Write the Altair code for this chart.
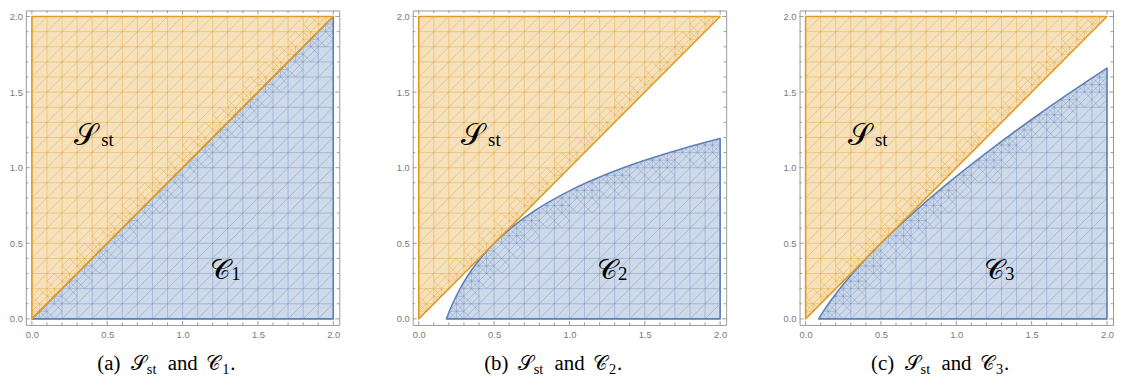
import altair as alt
import numpy as np
import pandas as pd

# ---------------- data ----------------
STEP = 0.1            # mesh cell size
N_CELLS = 20          # cells across [0, 2]
LO, HI = -0.04, 2.04  # plot range incl. padding

AXIS_LABELS = [0.0, 0.5, 1.0, 1.5, 2.0]
TICK_VALUES = [round(k * 0.1, 1) for k in range(21)]

# S_st : region above the diagonal
S_X = [0.0, 2.0]
S_Y_LOW = [0.0, 2.0]
S_Y_HIGH = [2.0, 2.0]

# C_1, C_2, C_3 : regions under a boundary curve
C1_X = [0.0, 2.0]
C1_Y = [0.0, 2.0]

C2_X = [0.184, 0.2, 0.22, 0.25, 0.3, 0.35, 0.4, 0.5, 0.6, 0.75, 1.0, 1.25, 1.5, 1.75, 2.0]
C2_Y = [0.0, 0.042, 0.09, 0.153, 0.245, 0.322, 0.388, 0.5, 0.591, 0.703, 0.847, 0.958, 1.049, 1.126, 1.193]

C3_X = [0.087, 0.1, 0.12, 0.15, 0.2, 0.3, 0.4, 0.5, 0.6, 0.75, 1.0, 1.25, 1.5, 1.75, 2.0]
C3_Y = [0.0, 0.021, 0.053, 0.097, 0.165, 0.287, 0.398, 0.5, 0.596, 0.732, 0.942, 1.136, 1.319, 1.493, 1.659]

LABEL_S_POS = (0.355, 1.21)
LABEL_C_POS = (1.25, 0.315)

PANELS = [
    ("a", "1", C1_X, C1_Y),
    ("b", "2", C2_X, C2_Y),
    ("c", "3", C3_X, C3_Y),
]

ORANGE = "#E19C24"
BLUE = "#5E81B5"
FRAME = "#9a9a9a"
W = 316
H = 317


# ---------------- helpers ----------------
def xenc(field="x"):
    return alt.X(f"{field}:Q", title=None,
                 scale=alt.Scale(domain=[LO, HI], nice=False, zero=False),
                 axis=alt.Axis(values=AXIS_LABELS, format=".1f", ticks=False, domain=False,
                               grid=False, labelColor="#7a7a7a", labelFont="Liberation Sans",
                               labelFontSize=9.5, labelPadding=4.5, labelFlush=False))


def yenc(field="y"):
    return alt.Y(f"{field}:Q", title=None,
                 scale=alt.Scale(domain=[LO, HI], nice=False, zero=False),
                 axis=alt.Axis(values=AXIS_LABELS, format=".1f", ticks=False, domain=False,
                               grid=False, labelColor="#7a7a7a", labelFont="Liberation Sans",
                               labelFontSize=9.5, labelPadding=3.5, labelFlush=False))


def clip(segs, inside):
    out = []
    t = np.linspace(0.0, 1.0, 501)
    for xa, ya, xb, yb in segs:
        px = xa + (xb - xa) * t
        py = ya + (yb - ya) * t
        m = inside(px, py)
        idx = np.where(m)[0]
        if len(idx) < 2:
            continue
        br = np.where(np.diff(idx) > 1)[0]
        starts = np.r_[idx[0], idx[br + 1]]
        ends = np.r_[idx[br], idx[-1]]
        for s, e in zip(starts, ends):
            if e > s:
                out.append((px[s], py[s], px[e], py[e]))
    return out


def mesh(inside):
    base = []
    for k in range(N_CELLS + 1):
        c = k * STEP
        base.append((0.0, c, 2.0, c))
        base.append((c, 0.0, c, 2.0))
    for k in range(-N_CELLS + 1, N_CELLS):
        d = k * STEP
        base.append((max(0.0, -d), max(0.0, d), min(2.0, 2.0 - d), min(2.0, 2.0 + d)))
    h = STEP
    count = np.zeros((N_CELLS, N_CELLS), int)
    for i in range(N_CELLS):
        for j in range(N_CELLS):
            x, y = i * h, j * h
            cxs = np.array([x, x + h, x, x + h, x + h / 2])
            cys = np.array([y, y, y + h, y + h, y + h / 2])
            count[i, j] = inside(cxs, cys).sum()
    boundary = (count > 0) & (count < 5)
    refine_cells = boundary.copy()
    for i in range(N_CELLS):
        for j in range(N_CELLS):
            if count[i, j] == 5:
                for di, dj in ((1, 0), (-1, 0), (0, 1), (0, -1)):
                    a, b = i + di, j + dj
                    if 0 <= a < N_CELLS and 0 <= b < N_CELLS and boundary[a, b]:
                        refine_cells[i, j] = True
    refine = []
    for i in range(N_CELLS):
        for j in range(N_CELLS):
            if not refine_cells[i, j]:
                continue
            x, y = i * h, j * h
            if boundary[i, j]:
                refine += [
                    (x, y + h / 2, x + h, y + h / 2),
                    (x + h / 2, y, x + h / 2, y + h),
                    (x, y + h, x + h, y),
                    (x + h / 2, y, x + h, y + h / 2),
                    (x + h, y + h / 2, x + h / 2, y + h),
                    (x + h / 2, y + h, x, y + h / 2),
                    (x, y + h / 2, x + h / 2, y),
                ]
            else:
                refine += [
                    (x + h / 2, y, x + h, y + h / 2),
                    (x + h, y + h / 2, x + h / 2, y + h),
                    (x + h / 2, y + h, x, y + h / 2),
                    (x, y + h / 2, x + h / 2, y),
                ]
    segs = clip(base + refine, inside)
    return pd.DataFrame(segs, columns=["x", "y", "x2", "y2"])


def inside_s(px, py):
    return (py >= px - 1e-9) & (px >= -1e-9) & (px <= 2 + 1e-9) & (py <= 2 + 1e-9) & (py >= -1e-9)


def inside_c(cx, cy):
    cx = np.asarray(cx, float)
    cy = np.asarray(cy, float)

    def f(px, py):
        return ((px >= cx[0] - 1e-9) & (px <= 2 + 1e-9) & (py >= -1e-9)
                & (py <= np.interp(px, cx, cy) + 1e-9))
    return f


def tick_df():
    segs = []
    for t in TICK_VALUES:
        major = abs(t * 2 - round(t * 2)) < 1e-9
        ln = (4.0 if major else 2.5) / (W / (HI - LO))
        segs.append((t, LO, t, LO + ln))
        segs.append((t, HI, t, HI - ln))
        segs.append((LO, t, LO + ln, t))
        segs.append((HI, t, HI - ln, t))
    return pd.DataFrame(segs, columns=["x", "y", "x2", "y2"])


def panel(letter, sub, cx, cy):
    blue_df = pd.DataFrame({"x": cx, "y": [0.0] * len(cx), "y2": cy})
    blue = alt.Chart(blue_df).mark_area(
        interpolate="monotone", fill=BLUE, fillOpacity=0.3, stroke=BLUE,
        strokeWidth=1.6, strokeJoin="round"
    ).encode(x=xenc(), y=yenc(), y2="y2:Q")
    blue_m = alt.Chart(mesh(inside_c(cx, cy))).mark_rule(
        color=BLUE, strokeWidth=0.8, opacity=0.45
    ).encode(x=xenc(), y=yenc(), x2="x2:Q", y2="y2:Q")

    s_df = pd.DataFrame({"x": S_X, "y": S_Y_LOW, "y2": S_Y_HIGH})
    orange = alt.Chart(s_df).mark_area(
        fill=ORANGE, fillOpacity=0.3, stroke=ORANGE, strokeWidth=1.6, strokeJoin="round"
    ).encode(x=xenc(), y=yenc(), y2="y2:Q")
    orange_m = alt.Chart(mesh(inside_s)).mark_rule(
        color=ORANGE, strokeWidth=0.8, opacity=0.5
    ).encode(x=xenc(), y=yenc(), x2="x2:Q", y2="y2:Q")

    ticks = alt.Chart(tick_df()).mark_rule(color=FRAME, strokeWidth=1).encode(
        x=xenc(), y=yenc(), x2="x2:Q", y2="y2:Q")

    lab_s = pd.DataFrame({"x": [LABEL_S_POS[0]], "y": [LABEL_S_POS[1]]})
    lab_c = pd.DataFrame({"x": [LABEL_C_POS[0]], "y": [LABEL_C_POS[1]]})
    s_big = alt.Chart(lab_s).mark_text(text="𝒮", font="DejaVu Serif", fontSize=30,
                                        align="center", baseline="middle", color="black"
                                        ).encode(x=xenc(), y=yenc())
    s_sub = alt.Chart(lab_s).mark_text(text="st", font="Liberation Serif", fontSize=19,
                                        align="left", baseline="alphabetic", dx=16, dy=10,
                                        color="black").encode(x=xenc(), y=yenc())
    c_big = alt.Chart(lab_c).mark_text(text="𝒞", font="DejaVu Serif", fontSize=28,
                                        align="center", baseline="middle", color="black"
                                        ).encode(x=xenc(), y=yenc())
    c_sub = alt.Chart(lab_c).mark_text(text=sub, font="Liberation Serif", fontSize=19,
                                        align="left", baseline="alphabetic", dx=11, dy=9,
                                        color="black").encode(x=xenc(), y=yenc())

    # caption pieces
    cap_y = 362
    pieces = [
        (f"({letter})", 72, 21, 0),
        ("𝒮", 106, 20, 0),
        ("st", 122, 14.5, 4),
        ("and", 143, 21, 0),
        ("𝒞", 182, 20, 0),
        (sub, 198, 14.5, 4),
        (".", 206, 21, 0),
    ]
    caps = []
    for txt, px, fs, dy in pieces:
        caps.append(alt.Chart(lab_s).mark_text(
            text=txt, font="Liberation Serif", fontSize=fs, align="left",
            baseline="alphabetic", dy=dy, color="black"
        ).encode(x=alt.value(px), y=alt.value(cap_y)))

    return alt.layer(blue, blue_m, orange, orange_m, ticks, s_big, s_sub, c_big, c_sub,
                     *caps).properties(width=W, height=H)


chart = alt.hconcat(*[panel(*p) for p in PANELS], spacing=54).properties(
    padding=0
).configure_view(stroke=FRAME, strokeWidth=1)

chart.save("out.html", embed_options={"renderer": "svg", "actions": False})
